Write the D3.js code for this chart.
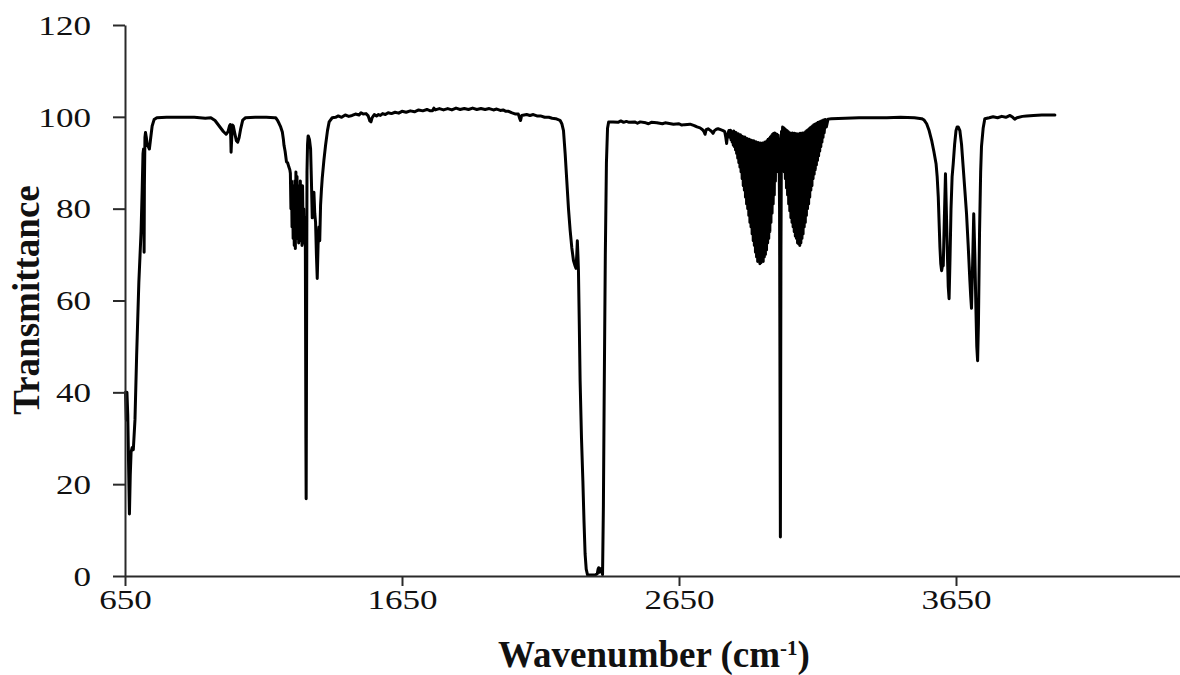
<!DOCTYPE html>
<html>
<head>
<meta charset="utf-8">
<script src="https://cdn.jsdelivr.net/npm/d3@7"></script>
<style>
  html, body { margin: 0; padding: 0; background: #fff; }
  svg { display: block; }
</style>
</head>
<body>
<svg id="chart" width="1180" height="675"></svg>
<script>
// ---- data ----
const xTicks = [650, 1650, 2650, 3650];
const yTicks = [0, 20, 40, 60, 80, 100, 120];
const xTitle = "Wavenumber (cm";
const xTitleSup = "-1";
const yTitle = "Transmittance";

const wavenumber = [
  652,655,657,660,663,666,669,672,676,680,686,692,700,708,712,715,717,718,719,720,722,724,727,730,734,738,742,748,755,765,800,850,900,940,
  960,975,990,1005,1015,1022,1027,1030,1032,1033,1035,1038,1041,1046,1052,1057,1062,1068,1075,1085,1120,1160,1190,
  1194,1200,1206,1212,1218,1222,1224,1228,1233,1237,1242,1245,1247,1249,1251,1253,1255,1257,1259,1261,1263,1265,1267,1269,1271,1273,1275,1277,1279,1281,1283,1285,1287,1289,1291,1293,1295,1297,1299,1301,1303,1304,1305,1307,1309,1311,
  1312,1316,1320,1323,1326,1329,1332,1335,1338,1341,1344,1347,1350,1353,1356,1359,1362,1368,1374,1381,1387,1398,
  1410,1420,1432,1445,1458,1470,1482,1495,1502,1510,1520,1528,1534,1538,1542,1550,1558,1565,1572,1580,1590,1600,1612,1625,1638,1650,1665,1680,1695,1710,1725,1740,1752,1760,1765,1770,1785,1800,1815,1830,1845,1860,1875,1890,1905,1920,1935,1950,1965,1980,1992,2005,2015,2025,2035,2045,2060,2070,2075,2078,2082,2100,2112,2124,2137,2150,2165,2180,2192,2205,2218,
  2221,2227,2233,2239,2245,2251,2257,2263,2269,2275,2278,2281,2283,2285,2287,2290,2293,2298,2303,2307,2311,2315,2320,2330,2340,2350,2355,2358,2360,2363,2366,2369,2371,2374,2377,2380,2384,2388,2392,2396,2412,
  2430,2440,2450,2460,2470,2490,2500,2510,2530,2540,2550,2570,2590,2600,2610,2630,2650,2660,2670,2690,2705,2715,2726,2735,2740,2744,2748,2755,2762,2768,2773,2778,2785,2791,2800,2809,2815,2819,2822,2825,2830,
  2832,2834,2836,2838,2840,2842,2844,2846,2848,2850,2852,2854,2856,2858,2860,2862,2864,2866,2868,2870,2872,2874,2876,2878,2880,2882,2884,2886,2888,2890,2892,2894,2896,2898,2900,2902,2904,2906,2908,2910,2912,2914,2916,2918,2920,2922,2924,2926,2928,2930,2932,2934,2936,2938,2940,2942,2944,2946,2948,2950,2952,2954,2956,2958,2960,2962,2964,2966,2968,2970,2972,2974,2976,2978,2980,2982,2984,2986,2988,2990,2992,2994,2996,2998,3000,3002,3004,3006,3008,
  3011,3013,3016,3018,3020,
  3022,3024,3026,3028,3030,3032,3034,3036,3038,3040,3042,3044,3046,3048,3050,3052,3054,3056,3058,3060,3062,3064,3066,3068,3070,3072,3074,3076,3078,3080,3082,3084,3086,3088,3090,3092,3094,3096,3098,3100,3102,3104,3106,3108,3110,3112,3114,3116,3118,3120,3122,3124,3126,3128,3130,3132,3134,3136,3138,3140,3142,3144,3146,3148,3150,3152,3154,3156,3158,3160,3162,3164,3166,3168,3170,3172,3174,3178,3182,3188,3200,
  3250,3300,3350,3400,3450,3500,3526,
  3535,3544,3553,3562,3570,3578,3582,3586,3589,3592,3595,3598,3601,3604,3608,3612,3615,3619,3622,3625,3628,3632,3636,3640,3645,3650,3654,3658,3664,3670,3676,3682,3688,3694,3700,3703,3706,3710,3714,3718,3722,3725,3728,3731,3735,3739,3742,3748,3754,3770,3784,3800,3815,3830,3845,3855,3862,3870,3890,3905,3930,3960,4007
];
const transmittance = [
  40,34,40,35,24,13.5,22,27,28,27.5,34,48,64,75,84,92,93,80,70.5,85,95.5,96.6,95.5,94,93.5,93,95,98,99.4,99.8,99.9,99.9,99.9,99.7,
  99.8,99.2,98,96.8,96.2,96.8,98,98.3,95,92.3,95,98.2,98,96.5,94.8,94.5,95.5,97.5,99.3,99.8,99.9,99.9,99.8,
  99.8,99.3,98.6,97.8,96.7,95,93.8,92.5,90.2,90,89,88.5,87.7,80,86,76,85,73.5,84,72,86,71.3,88,74,87,73.5,84,72.5,85,75,86,73,82,72,85,74,80,72.5,78,74,30,16.8,40,88,94,95.8,
  95.8,95,93,86,78,81,83.6,79,77,70,64.8,72,76,73,80.7,84,86.6,90.5,93.8,97,98.9,99.8,
  99.9,100.2,99.9,100.4,100.1,100.3,100.6,100.4,100.9,100.6,100.7,100.2,99.1,98.9,99.8,100.5,100.2,100.5,100.3,100.7,100.5,100.9,100.7,101.0,100.8,101.2,101.0,101.3,101.1,101.5,101.3,101.6,101.3,101.3,101.9,101.5,101.8,101.5,101.8,101.5,101.9,101.6,101.8,101.6,101.9,101.6,101.8,101.6,101.8,101.5,101.7,101.4,101.5,101.2,101.2,100.9,100.6,100.6,99.6,99.2,100.3,100.5,100.3,100.5,100.2,100.2,99.9,99.9,99.7,99.6,99.3,
  99.2,98.5,97,92,86,80,75.3,71.5,68.7,67.5,67,70,73,70,66.5,55,42.5,30,20.7,12,4.8,1.5,0.2,0.2,0.2,0.3,0.5,1.5,1.8,0.8,1.0,1.6,1.5,0.3,15,40,70,90,97.5,98.9,98.9,
  98.8,99.1,98.8,99.0,98.8,98.9,98.6,98.9,98.7,98.5,98.8,98.7,98.5,98.7,98.6,98.4,98.5,98.2,98.3,98.4,98.1,97.8,97.6,97.2,96.8,96.2,97.2,97.4,97.1,96.8,96.4,97,97.3,97.4,97.2,97,96.8,95.5,94.2,96,97,
  97.0,95.5,97.1,95,96.8,94.5,96.8,93.8,96.9,93.5,96.5,92.8,96.6,92,96.2,91,96.3,90,96,89,96.1,88,95.8,86.5,95.7,85,95.5,84,95.6,82.5,95.2,81,95.3,80,95,78.5,95.1,77,94.8,76,94.9,74.5,94.6,73,94.8,72,94.5,70.5,94.6,69.5,94.3,68.5,94.4,68.8,94.2,68,94.3,68.2,94.1,68.6,94.3,68.5,94.2,69.5,94.5,70,94.6,71,94.8,72.5,95.1,73.5,95.3,75,95.6,77,95.9,79,96.2,81,96.4,83,96.5,86,96.3,88,96.2,90,96,
  94,80,8.5,70,96.8,
  92,97.8,90,97.6,88,97.4,86.5,97.2,84.5,97,83,96.8,81,96.6,79.5,96.5,78,96.4,77,96.5,76,96.3,75,96.4,74,96.2,73.5,96.3,72.5,96.2,72.3,96.3,72,96.4,72.5,96.3,73.5,96.5,74.5,96.4,76,96.6,77,96.8,78.5,97,80,97.2,81,97.4,82.5,97.6,84,97.8,85,98,86.5,98.2,87.5,98.4,88.5,98.5,89.5,98.6,90.5,98.8,91.5,98.9,92.5,99,93.5,99.1,94.5,99.2,95.5,99.3,96.5,99.4,97.8,99.5,99.6,
  99.7,99.8,99.8,99.8,99.9,99.8,99.6,
  99.3,98.5,97,94.9,92.5,89.8,87,82.5,77,71.6,68,66.5,67.5,67.6,78,87.6,80,70,63,60.4,68,80,87,89.8,94,97,97.8,97.8,97,94,89,84,78.9,72,64.4,61,58.3,68,78.9,70,58,50,46.9,55,75,88,93.5,97.5,99.6,99.8,100,99.8,100.1,99.9,100.3,99.9,99.5,99.8,100.1,100.2,100.3,100.4,100.4
];

// ---- layout ----
const svg = d3.select("#chart");
const x = d3.scaleLinear().domain([650, 4650]).range([125, 1233]);
const y = d3.scaleLinear().domain([0, 120]).range([576, 25]);
const axisColor = "#2a2a2a";
const numScale = 1.3;
const serif = "'Liberation Serif', 'Times New Roman', serif";

// spectrum
const points = wavenumber.map((w, i) => [w, transmittance[i]]);
svg.append("path")
  .datum(points)
  .attr("fill", "none")
  .attr("stroke", "#000")
  .attr("stroke-width", 3)
  .attr("stroke-linejoin", "round")
  .attr("stroke-linecap", "round")
  .attr("d", d3.line().x(d => x(d[0])).y(d => y(d[1])));

// y axis
const gy = svg.append("g")
  .attr("transform", `translate(${x(650)},0)`)
  .call(d3.axisLeft(y).tickValues(yTicks).tickSize(12).tickSizeOuter(0).tickFormat(d3.format("d")));
gy.select(".domain").attr("stroke", axisColor).attr("stroke-width", 2);
gy.selectAll(".tick line").attr("stroke", axisColor).attr("stroke-width", 2);
gy.selectAll(".tick text")
  .attr("x", -34 / numScale)
  .attr("dy", "0.34em")
  .attr("transform", `scale(${numScale},1)`)
  .attr("fill", "#111")
  .style("font-family", serif)
  .style("font-size", "27px");

// x axis (line runs on past the right edge, as in the reference)
const gx = svg.append("g")
  .attr("transform", `translate(0,${y(0)})`)
  .call(d3.axisBottom(x).tickValues(xTicks).tickSize(10).tickSizeOuter(0).tickFormat(d3.format("d")));
gx.select(".domain").attr("stroke", axisColor).attr("stroke-width", 2);
gx.selectAll(".tick line").attr("stroke", axisColor).attr("stroke-width", 2);
gx.selectAll(".tick text")
  .attr("y", 33)
  .attr("dy", 0)
  .attr("transform", `scale(${numScale},1)`)
  .attr("fill", "#111")
  .style("font-family", serif)
  .style("font-size", "27px");

// axis titles
const xt = svg.append("text")
  .attr("x", 654)
  .attr("y", 667)
  .attr("text-anchor", "middle")
  .attr("fill", "#111")
  .style("font-family", serif)
  .style("font-weight", "bold")
  .style("font-size", "37px");
xt.append("tspan").text(xTitle);
xt.append("tspan").text(xTitleSup).attr("baseline-shift", "super").style("font-size", "21px");
xt.append("tspan").text(")");

svg.append("text")
  .attr("transform", "translate(39,300) rotate(-90)")
  .attr("text-anchor", "middle")
  .attr("fill", "#111")
  .style("font-family", serif)
  .style("font-weight", "bold")
  .style("font-size", "37px")
  .text(yTitle);
</script>
</body>
</html>
